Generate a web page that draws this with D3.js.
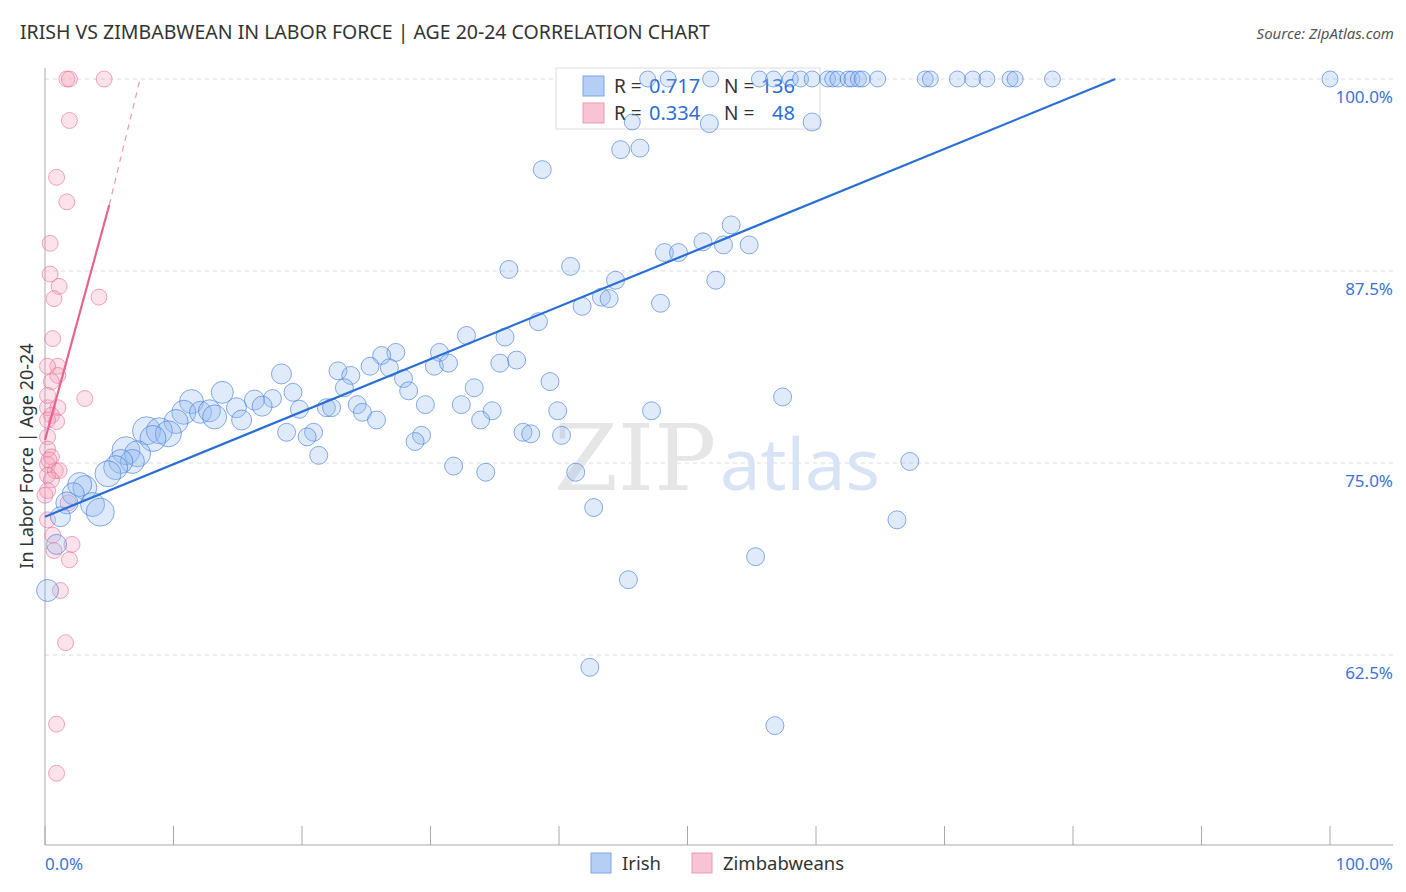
<!DOCTYPE html>
<html><head><meta charset="utf-8">
<script src="https://cdn.jsdelivr.net/npm/d3@7"></script>
<style>body{margin:0;background:#fff;font-family:"Noto Sans",sans-serif}</style>
</head><body><svg id="c" width="1406" height="892"></svg>
<script>
// Irish: [x, y, r]
const irishTop = [46.9,48.5,51.8,55.6,56.7,58,58.8,59.7,60.9,61.3,61.7,62.5,62.8,63.3,63.6,64.8,68.5,68.9,71,72.2,73.3,75.1,75.5,78.4,100];
const irishPts = [
  [51.7,97.1,9],[59.7,97.2,9],[45.7,97.2,8],[38.7,94.1,9],[44.8,95.4,9],[46.3,95.5,9],[53.4,90.5,9],
  [51.2,89.4,9],[52.8,89.2,9],[54.8,89.2,9],[48.2,88.7,9],[49.3,88.7,9],[36.1,87.6,9],[40.9,87.8,9],
  [44.4,86.9,9],[52.2,86.9,9],[43.3,85.8,9],[43.9,85.7,9],[41.8,85.2,9],[47.9,85.4,9],[38.4,84.2,9],
  [32.8,83.3,9],[35.8,83.2,9],[27.3,82.2,9],[26.2,82.0,9],[30.7,82.2,9],[25.3,81.3,9],[35.4,81.5,9],
  [36.7,81.7,9],[30.3,81.3,9],[31.4,81.5,9],[26.8,81.2,9],[22.8,81.0,9],[23.8,80.7,9],[18.4,80.8,10],
  [27.9,80.5,9],[23.3,79.9,9],[33.4,79.9,9],[39.3,80.3,9],[28.3,79.7,9],[19.3,79.6,9],[57.4,79.3,9],
  [13.8,79.6,11],[11.4,79.0,12],[17.7,79.2,9],[16.3,79.1,10],[24.3,78.8,9],[29.6,78.8,9],[32.4,78.8,9],
  [21.9,78.6,9],[22.3,78.6,9],[19.8,78.5,9],[14.9,78.6,10],[16.9,78.7,10],[39.9,78.4,9],[47.2,78.4,9],
  [34.8,78.4,9],[24.7,78.3,9],[10.8,78.3,12],[12.1,78.3,11],[12.8,78.4,11],[13.2,78.0,12],[15.3,77.8,10],
  [25.8,77.8,9],[33.9,77.8,9],[10.2,77.7,12],[18.8,77.0,9],[20.9,77.0,9],[20.4,76.7,9],[37.2,77.0,9],
  [37.8,76.9,9],[40.2,76.8,9],[29.3,76.8,9],[28.8,76.4,9],[7.9,77.1,14],[8.9,77.1,13],[9.6,76.9,13],
  [8.4,76.6,13],[6.3,75.8,14],[7.2,75.6,13],[21.3,75.5,9],[6.8,75.1,12],[31.8,74.8,9],[34.3,74.4,9],
  [41.3,74.4,9],[67.3,75.1,9],[5.9,75.1,12],[5.5,74.7,12],[4.9,74.3,13],[3.1,73.4,12],[2.7,73.6,12],
  [2.2,73.0,11],[1.7,72.4,11],[3.7,72.3,12],[4.3,71.8,14],[1.2,71.5,10],[42.7,72.1,9],[66.3,71.3,9],
  [0.9,69.7,10],[55.3,68.9,9],[45.4,67.4,9],[0.2,66.7,11],[42.4,61.7,9],[56.8,57.9,9]
];
const zimPts = [
  [1.7,100],[1.9,100],[4.6,100],[1.9,97.3],[0.9,93.6],[1.7,92.0],[0.4,89.3],[0.4,87.3],[1.1,86.5],
  [0.7,85.7],[4.2,85.8],[0.6,83.1],[1.0,81.3],[0.2,81.3],[1.0,80.7],[0.5,80.3],[3.1,79.2],[0.2,78.6],
  [1.0,78.6],[0.5,78.1],[0.2,77.8],[0.9,77.7],[0.2,76.7],[0.2,75.9],[0.5,75.4],[0.2,74.9],[0.8,74.5],
  [1.1,74.5],[0.2,74.2],[0.5,73.9],[0.2,73.2],[0.0,72.9],[1.8,72.4],[0.2,71.3],[0.6,70.3],[2.1,69.7],
  [0.7,69.3],[1.9,68.7],[1.2,66.7],[1.6,63.3],[0.9,58.0],[0.9,54.8],[0.2,79.4],[0.3,75.2]
];
const blueTrend = [[0, 71.5], [83.3, 100]];
const pinkTrend = [[0, 76.5], [5, 91.8]];
const pinkDash = [[5, 91.8], [7.4, 100]];
const yTicks = [62.5, 75, 87.5, 100];
const xTicks = d3.range(0, 101, 10);

const svg = d3.select('#c');
const x = d3.scaleLinear().domain([0, 100]).range([45, 1330]);
const y = d3.scaleLinear().domain([50, 100]).range([847, 79]);

// grid
svg.selectAll('.grid').data(yTicks).enter().append('line')
  .attr('x1', 45).attr('x2', 1393).attr('y1', d => y(d)).attr('y2', d => y(d))
  .attr('stroke', '#ddd').attr('stroke-dasharray', '4,4');
svg.selectAll('.yl').data(yTicks).enter().append('text')
  .attr('x', 1393).attr('y', d => y(d) + 24).attr('text-anchor', 'end')
  .attr('fill', '#3b74d6').attr('font-size', 17).text(d => d.toFixed(1) + '%');

// axes
svg.append('line').attr('x1', 45).attr('x2', 45).attr('y1', 68).attr('y2', 845).attr('stroke', '#aaa');
svg.append('line').attr('x1', 45).attr('x2', 1393).attr('y1', 845).attr('y2', 845).attr('stroke', '#aaa');
svg.selectAll('.xt').data(xTicks).enter().append('line')
  .attr('x1', d => x(d)).attr('x2', d => x(d)).attr('y1', 826).attr('y2', 845).attr('stroke', '#aaa');
svg.append('text').attr('x', 45).attr('y', 870).attr('fill', '#3b74d6').attr('font-size', 17).text('0.0%');
svg.append('text').attr('x', 1393).attr('y', 870).attr('text-anchor', 'end').attr('fill', '#3b74d6').attr('font-size', 17).text('100.0%');

// watermark
svg.append('text').attr('x', 635).attr('y', 490).attr('text-anchor', 'middle')
  .attr('font-family', 'DejaVu Serif, serif').attr('font-size', 92).attr('fill', '#e6e6e6').text('ZIP');
svg.append('text').attr('x', 800).attr('y', 490).attr('text-anchor', 'middle')
  .attr('font-size', 72).attr('fill', '#d8e4f6').text('atlas');

// legend box (under the points)
const lg = svg.append('g');
lg.append('rect').attr('x', 556).attr('y', 68).attr('width', 264).attr('height', 61)
  .attr('fill', 'rgba(255,255,255,0.85)').attr('stroke', '#ddd');
const legRows = [
  { c: '#b4cef5', s: '#7ea6e6', r: '0.717', n: '136', y: 86 },
  { c: '#f8c3d3', s: '#ee99b3', r: '0.334', n: '48', y: 113 },
];
legRows.forEach(d => {
  lg.append('rect').attr('x', 583).attr('y', d.y - 10).attr('width', 21).attr('height', 20)
    .attr('fill', d.c).attr('stroke', d.s);
  lg.append('text').attr('x', 614).attr('y', d.y + 7).attr('font-size', 19).attr('fill', '#333').text('R =');
  lg.append('text').attr('x', 649).attr('y', d.y + 7).attr('font-size', 20).attr('fill', '#2a6fd6').text(d.r);
  lg.append('text').attr('x', 724).attr('y', d.y + 7).attr('font-size', 19).attr('fill', '#333').text('N =');
  lg.append('text').attr('x', 795).attr('y', d.y + 7).attr('text-anchor', 'end').attr('font-size', 20).attr('fill', '#2a6fd6').text(d.n);
});

// points
svg.append('g').selectAll('circle').data(zimPts).enter().append('circle')
  .attr('cx', d => x(d[0])).attr('cy', d => y(d[1])).attr('r', 8)
  .attr('fill', 'rgba(244,160,185,0.3)').attr('stroke', 'rgba(232,110,150,0.6)');
svg.append('g').selectAll('circle').data(irishTop).enter().append('circle')
  .attr('cx', d => x(d)).attr('cy', y(100)).attr('r', 8)
  .attr('fill', 'rgba(150,185,240,0.3)').attr('stroke', 'rgba(60,120,220,0.6)');
svg.append('g').selectAll('circle').data(irishPts).enter().append('circle')
  .attr('cx', d => x(d[0])).attr('cy', d => y(d[1])).attr('r', d => d[2])
  .attr('fill', 'rgba(150,185,240,0.3)').attr('stroke', 'rgba(60,120,220,0.6)');

// trend lines
const line = d3.line().x(d => x(d[0])).y(d => y(d[1]));
svg.append('path').attr('d', line(blueTrend)).attr('stroke', '#2a6fd6').attr('stroke-width', 2.2).attr('fill', 'none');
svg.append('path').attr('d', line(pinkTrend)).attr('stroke', '#e8638f').attr('stroke-width', 2.2).attr('fill', 'none');
svg.append('path').attr('d', line(pinkDash)).attr('stroke', '#f09ab5').attr('stroke-width', 1.2)
  .attr('stroke-dasharray', '6,5').attr('fill', 'none');

// title
svg.append('text').attr('x', 20).attr('y', 39).attr('font-size', 19.5).attr('fill', '#333')
  .text('IRISH VS ZIMBABWEAN IN LABOR FORCE | AGE 20-24 CORRELATION CHART');
svg.append('text').attr('x', 1394).attr('y', 39).attr('text-anchor', 'end').attr('font-size', 15)
  .attr('font-style', 'italic').attr('fill', '#555').text('Source: ZipAtlas.com');
svg.append('text').attr('transform', 'translate(33,456) rotate(-90)').attr('text-anchor', 'middle')
  .attr('font-size', 18).attr('fill', '#333').text('In Labor Force | Age 20-24');

// bottom legend
[{ x: 591, c: '#b4cef5', s: '#7ea6e6', t: 'Irish' }, { x: 692, c: '#f8c3d3', s: '#ee99b3', t: 'Zimbabweans' }].forEach(d => {
  svg.append('rect').attr('x', d.x).attr('y', 853).attr('width', 20).attr('height', 20).attr('fill', d.c).attr('stroke', d.s);
  svg.append('text').attr('x', d.x + 31).attr('y', 870).attr('font-size', 18.5).attr('fill', '#333').text(d.t);
});
</script></body></html>
